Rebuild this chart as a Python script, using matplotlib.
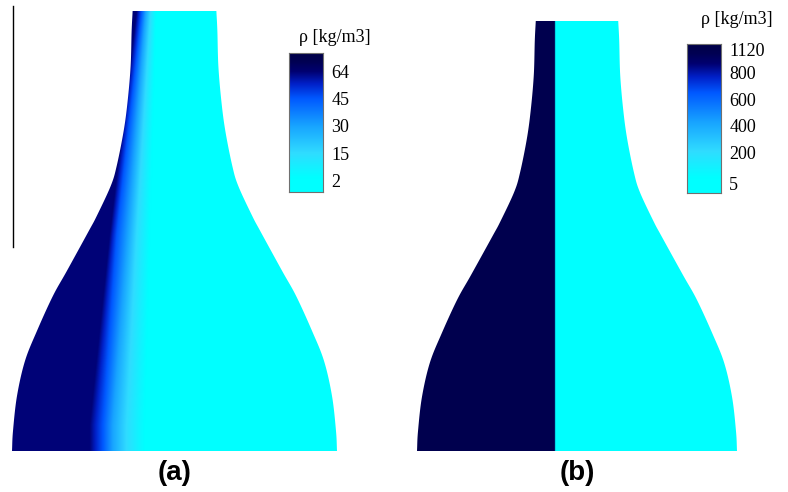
import numpy as np
import matplotlib
matplotlib.use('Agg')
from matplotlib import pyplot as plt
from matplotlib.colors import LinearSegmentedColormap
from matplotlib.patches import Polygon
from matplotlib.lines import Line2D

# nozzle wall: height above outlet [mm] and radius [mm]
wall_z = [0, 2, 5.5, 9, 12, 15.5, 18, 22, 23.5, 26.5, 28.5, 32, 35, 38.5, 42, 44]
wall_r = [16.3, 16.2, 15.8, 15.0, 13.8, 12.2, 10.8, 8.6, 7.8, 6.4, 5.8, 5.1, 4.7, 4.4, 4.3, 4.2]

# case (a): diffuse mixing layer, x position [mm] of each density level
front_z = [2.6, 21.6, 44]
front_rho = [63, 45, 30, 15, 2]
front_x_63 = [-8.5, -6.5, -3.8]
front_x_45 = [-7.2, -5.8, -3.3]
front_x_30 = [-6.2, -4.7, -2.9]
front_x_15 = [-4.8, -3.8, -2.4]
front_x_2 = [-2.8, -2.3, -1.8]

# case (b): sharp interface
interface_b = -2.25
rho_heavy_b = 1120
rho_light_b = 5

# legend levels
levels_a = [2, 15, 30, 45, 64]
levels_b = [5, 200, 400, 600, 800, 1120]
bar_pos_a = [0.08, 0.28, 0.475, 0.675, 0.87]
bar_pos_b = [0.067, 0.27, 0.45, 0.63, 0.81, 0.96]

cmap = LinearSegmentedColormap.from_list('rho', [
    (0.00, '#00ffff'), (0.10, '#00ffff'), (0.28, '#30dcff'),
    (0.475, '#18a4ff'), (0.675, '#0058ff'), (0.78, '#0020c8'),
    (0.87, '#000070'), (0.94, '#000052'), (1.00, '#000048')])

plt.rcParams['font.family'] = ['Liberation Serif', 'DejaVu Serif']


def catmull_rom(px, py, n=24):
    # smooth curve through the wall points
    p = np.column_stack([px, py]).astype(float)
    p = np.vstack([2 * p[0] - p[1], p, 2 * p[-1] - p[-2]])
    out = []
    t = np.linspace(0, 1, n, endpoint=False)[:, None]
    for i in range(1, len(p) - 2):
        p0, p1, p2, p3 = p[i - 1], p[i], p[i + 1], p[i + 2]
        seg = 0.5 * ((2 * p1) + (-p0 + p2) * t +
                     (2 * p0 - 5 * p1 + 4 * p2 - p3) * t ** 2 +
                     (-p0 + 3 * p1 - 3 * p2 + p3) * t ** 3)
        out.append(seg)
    out.append(p[-2][None, :])
    return np.vstack(out)


wall = catmull_rom(wall_r, wall_z)

fig = plt.figure(figsize=(7.88, 4.92), dpi=100)

r_max = max(wall_r)
x = np.linspace(-r_max, r_max, 700)
z = np.linspace(0, wall_z[-1], 900)
X, Z = np.meshgrid(x, z)

# density field (a)
rho_a = np.zeros_like(X)
fronts = [front_x_63, front_x_45, front_x_30, front_x_15, front_x_2]
for j, zz in enumerate(z):
    xs = [np.interp(zz, front_z, f) for f in fronts]
    rho_a[j] = np.interp(x, xs, front_rho)

# density field (b)
rho_b = np.where(X < interface_b, rho_heavy_b, rho_light_b)


def draw_nozzle(rect, rho, levels, bar_pos):
    ax = fig.add_axes(rect)
    pos = np.interp(rho, levels, bar_pos)
    im = ax.imshow(pos, cmap=cmap, vmin=0, vmax=1, origin='lower',
                   extent=[-r_max, r_max, 0, wall_z[-1]],
                   aspect='auto', interpolation='bilinear')
    left = np.column_stack([-wall[:, 0], wall[:, 1]])
    right = wall[::-1]
    patch = Polygon(np.vstack([left, right]), closed=True,
                    facecolor='none', edgecolor='none')
    ax.add_patch(patch)
    im.set_clip_path(patch)
    ax.set_xlim(-r_max, r_max)
    ax.set_ylim(0, wall_z[-1])
    ax.axis('off')
    return ax


def draw_legend(rect, levels, bar_pos, title_xy):
    cax = fig.add_axes(rect)
    grad = np.linspace(0, 1, 256).reshape(-1, 1)
    cax.imshow(grad, cmap=cmap, vmin=0, vmax=1, origin='lower',
               extent=[0, 1, 0, 1], aspect='auto')
    cax.set_xlim(0, 1)
    cax.set_ylim(0, 1)
    cax.set_xticks([])
    cax.yaxis.tick_right()
    cax.set_yticks(bar_pos)
    cax.set_yticklabels([str(v) for v in levels], fontsize=13)
    cax.tick_params(axis='y', length=0, pad=6)
    for s in cax.spines.values():
        s.set_color('#707070')
        s.set_linewidth(0.8)
    fig.text(title_xy[0] / 788, 1 - title_xy[1] / 492, 'ρ [kg/m3]',
             ha='center', va='center', fontsize=13)


draw_nozzle([12 / 788, 41 / 492, 325 / 788, 440 / 492], rho_a, levels_a, bar_pos_a)
draw_nozzle([417 / 788, 41 / 492, 320 / 788, 430 / 492], rho_b, levels_b, bar_pos_b)

draw_legend([289 / 788, 300 / 492, 34 / 788, 139 / 492], levels_a, bar_pos_a, (335, 37))
draw_legend([687 / 788, 299 / 492, 34 / 788, 149 / 492], levels_b, bar_pos_b, (737, 20))

# stray axis line on the left
fig.add_artist(Line2D([13 / 788, 13 / 788], [1 - 6 / 492, 1 - 247 / 492],
                      color='black', lw=1))

fig.text(175 / 788, 1 - 473 / 492, '(a)', ha='center', va='center',
         fontsize=20, fontweight='bold', family='Liberation Sans')
fig.text(577 / 788, 1 - 473 / 492, '(b)', ha='center', va='center',
         fontsize=20, fontweight='bold', family='Liberation Sans')

fig.savefig('out.png', dpi=100)
